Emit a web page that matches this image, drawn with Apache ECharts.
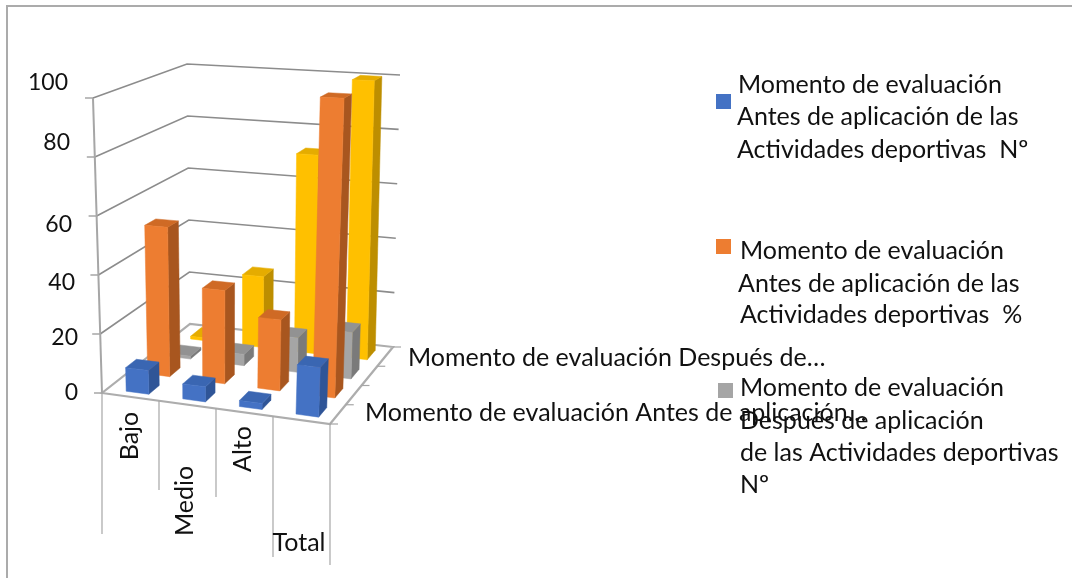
<!DOCTYPE html>
<html><head><meta charset="utf-8">
<style>html,body{margin:0;padding:0;background:#fff}#c{width:1072px;height:578px}</style>
<script src="https://cdn.jsdelivr.net/npm/echarts@6/dist/echarts.min.js"></script>
</head><body><div id="c"></div>
<script>
// ---- data ----
var categories = ['Bajo','Medio','Alto','Total'];
var valueTicks = [0,20,40,60,80,100];
var blueNo   = [8,5,2,16];
var orangePc = [52,32,24,100];
var grayNo   = [1,4,12,16];
var yellowPc = [1,26,72,100];
var seriesColors = {
  blue:  {front:'#4472C4',side:'#2F5597',top:'#3A66B2'},
  orange:{front:'#ED7D31',side:'#A8561F',top:'#CF6A25'},
  gray:  {front:'#A5A5A5',side:'#7A7A7A',top:'#929292'},
  yellow:{front:'#FFC000',side:'#BD8E00',top:'#E5AC00'}
};
var legendEntries = [
  ['Momento de evaluación','Antes de aplicación de las','Actividades deportivas  Nº'],
  ['Momento de evaluación','Antes de aplicación de las','Actividades deportivas  %'],
  ['Momento de evaluación','Después de aplicación','de las Actividades deportivas','Nº']
];
var depthLabels = ['Momento de evaluación Antes de aplicación…','Momento de evaluación Después de…'];

// ---- layout ----
var FONT='Lato', FS=25, LINE='#A6A6A6';
var corners={ // [front|back][left|right] -> bottom, top
  fl:{b:[102,393],t:[93,98]}, fr:{b:[330,424],t:[342,110]},
  bl:{b:[190,324],t:[187,64]}, br:{b:[393,347],t:[400,75]}
};
var BARX=0.40, BARZ=0.5, BARC=0.53;
function mix(a,b,t){return [a[0]+(b[0]-a[0])*t,a[1]+(b[1]-a[1])*t];}
function proj(t,s,h){
  var b=mix(mix(corners.fl.b,corners.fr.b,t),mix(corners.bl.b,corners.br.b,t),s);
  var u=mix(mix(corners.fl.t,corners.fr.t,t),mix(corners.bl.t,corners.br.t,t),s);
  return mix(b,u,h);
}
function norm(api,params,x,v){
  var p=api.coord([x,v]),c=params.coordSys;
  return [(p[0]-c.x)/c.width,1-(p[1]-c.y)/c.height];
}
function barSeries(vals,row,col){
  return {type:'custom',coordinateSystem:'cartesian2d',silent:true,animation:false,
    data:vals.map(function(v,i){return [i,v];}),
    encode:{x:0,y:1},
    renderItem:function(params,api){
      var i=api.value(0),v=api.value(1);
      var x0=i+BARC-BARX/2,x1=i+BARC+BARX/2,z0=(row+.5-BARZ/2)/4,z1=(row+.5+BARZ/2)/4;
      var a=norm(api,params,x0,0),b=norm(api,params,x1,v);
      var f=function(t,z,h){return proj(t,z,h);};
      var t0=a[0],t1=b[0],h0=a[1],h1=b[1];
      function poly(pts,c){return {type:'polygon',shape:{points:pts},style:{fill:c,stroke:c,lineWidth:.5}};}
      return {type:'group',children:[
        poly([f(t1,z0,h0),f(t1,z1,h0),f(t1,z1,h1),f(t1,z0,h1)],col.side),
        poly([f(t0,z0,h1),f(t1,z0,h1),f(t1,z1,h1),f(t0,z1,h1)],col.top),
        poly([f(t0,z0,h0),f(t1,z0,h0),f(t1,z0,h1),f(t0,z0,h1)],col.front)
      ]};
    }};
}
var wallSeries={type:'custom',coordinateSystem:'cartesian2d',silent:true,animation:false,
  data:valueTicks.map(function(v){return [0,v];}),encode:{x:0,y:1},
  renderItem:function(params,api){
    var v=api.value(1),h=norm(api,params,0,v)[1];
    var a=proj(0,0,h),b=proj(0,1,h),c=proj(1,1,h);
    var kids=[
      {type:'line',shape:{x1:a[0]-8,y1:a[1],x2:a[0],y2:a[1]},style:{stroke:LINE,lineWidth:1.5}}
    ];
    if(v>0) kids.push({type:'polyline',shape:{points:[a,b,c]},style:{fill:null,stroke:'#8C8C8C',lineWidth:1.6}});
    return {type:'group',children:kids};
  }};
var floorSeries={type:'custom',coordinateSystem:'cartesian2d',silent:true,animation:false,
  data:[[0,0]],encode:{x:0,y:1},
  renderItem:function(params,api){
    return {type:'group',children:[
      {type:'polygon',shape:{points:[proj(0,0,0),proj(1,0,0),proj(1,1,0),proj(0,1,0)]},style:{fill:'#fff',stroke:'#ADADAD',lineWidth:2.2}},
      {type:'line',shape:{x1:corners.fl.b[0],y1:corners.fl.b[1],x2:corners.fl.t[0],y2:corners.fl.t[1]},style:{stroke:LINE,lineWidth:2}}
    ]};
  }};
var catDrop=[534,490,497,557,565];
var catTickSeries={type:'custom',coordinateSystem:'cartesian2d',silent:true,animation:false,
  data:catDrop.map(function(d,i){return [i,0];}),encode:{x:0,y:1},
  renderItem:function(params,api){
    var i=api.value(0),t=norm(api,params,i,0)[0],p=proj(t,0,0);
    return {type:'line',shape:{x1:p[0],y1:p[1],x2:p[0],y2:catDrop[i]},style:{stroke:LINE,lineWidth:1.2}};
  }};
var depthTickSeries={type:'custom',coordinateSystem:'cartesian2d',silent:true,animation:false,
  data:[[4,0],[4,0],[4,0],[4,0],[4,0]],encode:{x:0,y:1},
  renderItem:function(params){
    var p=proj(1,params.dataIndex/4,0);
    return {type:'line',shape:{x1:p[0],y1:p[1],x2:p[0]+8,y2:p[1]},style:{stroke:LINE,lineWidth:1.2}};
  }};

function txt(x,y,s,extra){
  var o={type:'text',x:x,y:y,style:{text:s,fontFamily:FONT,fontSize:FS,fill:'#111',textVerticalAlign:'middle',textAlign:'left'},z:50};
  if(extra){for(var k in extra)o[k]=extra[k];}
  return o;
}
var gfx=[];
gfx.push({type:'polyline',shape:{points:[[7,578],[7,6],[1072,6]]},style:{fill:null,stroke:'#ABABAB',lineWidth:2},z:1});
var valLabelPos=[[78,393],[78,338],[75,283],[72,225],[70,143],[68,83]];
valueTicks.forEach(function(v,i){
  var t=txt(valLabelPos[i][0],valLabelPos[i][1],String(v));t.style.textAlign='right';t.style.fontSize=23;gfx.push(t);
});
var catLabelPos=[[130,436,1],[185,501,1],[243,449,1],[299,543,0]];
categories.forEach(function(c,i){
  var p=catLabelPos[i],t=txt(p[0],p[1],c);t.style.textAlign='center';
  if(p[2])t.rotation=Math.PI/2;
  gfx.push(t);
});
gfx.push(txt(365,413,depthLabels[0]));
gfx.push(txt(408,358,depthLabels[1]));
var legendMarks=[[716,94,seriesColors.blue.front],[716,239,seriesColors.orange.front],[718,383,seriesColors.gray.front]];
legendMarks.forEach(function(m){gfx.push({type:'rect',shape:{x:m[0],y:m[1],width:15,height:15},style:{fill:m[2]},z:40});});
var legendLines=[[[738,85],[737,117],[737,150]],[[740,251],[738,284],[740,315]],[[740,388],[740,421],[740,453],[740,485]]];
legendEntries.forEach(function(e,i){e.forEach(function(s,j){gfx.push(txt(legendLines[i][j][0],legendLines[i][j][1],s));});});

var chart=echarts.init(document.getElementById('c'),null,{renderer:'canvas'});
chart.setOption({
  animation:false,backgroundColor:'#fff',
  grid:{left:100,top:100,width:300,height:300},
  xAxis:{type:'value',min:0,max:4,show:false},
  yAxis:{type:'value',min:0,max:100,show:false},
  graphic:gfx,
  series:[
    wallSeries,floorSeries,catTickSeries,depthTickSeries,
    barSeries(yellowPc,3,seriesColors.yellow),
    barSeries(grayNo,2,seriesColors.gray),
    barSeries(orangePc,1,seriesColors.orange),
    barSeries(blueNo,0,seriesColors.blue)
  ]
});
</script></body></html>
